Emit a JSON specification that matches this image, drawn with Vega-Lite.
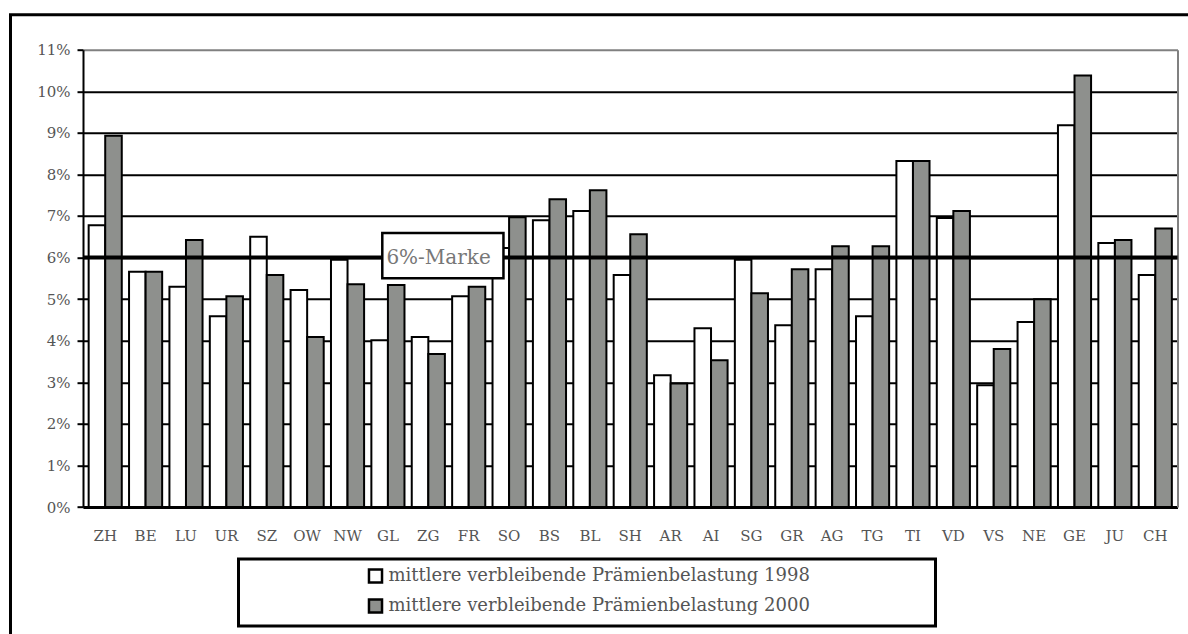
{
  "$schema": "https://vega.github.io/schema/vega-lite/v6.json",
  "width": 1180.5,
  "height": 622.3,
  "autosize": "none",
  "padding": {"left": 10.5, "top": 14.7, "right": -3, "bottom": -3},
  "background": "white",
  "config": {
    "view": {"stroke": "black", "strokeWidth": 3, "fill": "white"},
    "font": "DejaVu Serif"
  },
  "datasets": {
    "bars": [
      {"Kanton": "ZH", "Reihe": "mittlere verbleibende Prämienbelastung 1998", "Wert": 6.78},
      {"Kanton": "ZH", "Reihe": "mittlere verbleibende Prämienbelastung 2000", "Wert": 8.93},
      {"Kanton": "BE", "Reihe": "mittlere verbleibende Prämienbelastung 1998", "Wert": 5.66},
      {"Kanton": "BE", "Reihe": "mittlere verbleibende Prämienbelastung 2000", "Wert": 5.66},
      {"Kanton": "LU", "Reihe": "mittlere verbleibende Prämienbelastung 1998", "Wert": 5.30},
      {"Kanton": "LU", "Reihe": "mittlere verbleibende Prämienbelastung 2000", "Wert": 6.42},
      {"Kanton": "UR", "Reihe": "mittlere verbleibende Prämienbelastung 1998", "Wert": 4.59},
      {"Kanton": "UR", "Reihe": "mittlere verbleibende Prämienbelastung 2000", "Wert": 5.07},
      {"Kanton": "SZ", "Reihe": "mittlere verbleibende Prämienbelastung 1998", "Wert": 6.50},
      {"Kanton": "SZ", "Reihe": "mittlere verbleibende Prämienbelastung 2000", "Wert": 5.58},
      {"Kanton": "OW", "Reihe": "mittlere verbleibende Prämienbelastung 1998", "Wert": 5.22},
      {"Kanton": "OW", "Reihe": "mittlere verbleibende Prämienbelastung 2000", "Wert": 4.09},
      {"Kanton": "NW", "Reihe": "mittlere verbleibende Prämienbelastung 1998", "Wert": 5.95},
      {"Kanton": "NW", "Reihe": "mittlere verbleibende Prämienbelastung 2000", "Wert": 5.36},
      {"Kanton": "GL", "Reihe": "mittlere verbleibende Prämienbelastung 1998", "Wert": 4.01},
      {"Kanton": "GL", "Reihe": "mittlere verbleibende Prämienbelastung 2000", "Wert": 5.34},
      {"Kanton": "ZG", "Reihe": "mittlere verbleibende Prämienbelastung 1998", "Wert": 4.09},
      {"Kanton": "ZG", "Reihe": "mittlere verbleibende Prämienbelastung 2000", "Wert": 3.68},
      {"Kanton": "FR", "Reihe": "mittlere verbleibende Prämienbelastung 1998", "Wert": 5.07},
      {"Kanton": "FR", "Reihe": "mittlere verbleibende Prämienbelastung 2000", "Wert": 5.30},
      {"Kanton": "SO", "Reihe": "mittlere verbleibende Prämienbelastung 1998", "Wert": 6.23},
      {"Kanton": "SO", "Reihe": "mittlere verbleibende Prämienbelastung 2000", "Wert": 6.97},
      {"Kanton": "BS", "Reihe": "mittlere verbleibende Prämienbelastung 1998", "Wert": 6.90},
      {"Kanton": "BS", "Reihe": "mittlere verbleibende Prämienbelastung 2000", "Wert": 7.40},
      {"Kanton": "BL", "Reihe": "mittlere verbleibende Prämienbelastung 1998", "Wert": 7.12},
      {"Kanton": "BL", "Reihe": "mittlere verbleibende Prämienbelastung 2000", "Wert": 7.62},
      {"Kanton": "SH", "Reihe": "mittlere verbleibende Prämienbelastung 1998", "Wert": 5.58},
      {"Kanton": "SH", "Reihe": "mittlere verbleibende Prämienbelastung 2000", "Wert": 6.56},
      {"Kanton": "AR", "Reihe": "mittlere verbleibende Prämienbelastung 1998", "Wert": 3.17},
      {"Kanton": "AR", "Reihe": "mittlere verbleibende Prämienbelastung 2000", "Wert": 2.97},
      {"Kanton": "AI", "Reihe": "mittlere verbleibende Prämienbelastung 1998", "Wert": 4.30},
      {"Kanton": "AI", "Reihe": "mittlere verbleibende Prämienbelastung 2000", "Wert": 3.53},
      {"Kanton": "SG", "Reihe": "mittlere verbleibende Prämienbelastung 1998", "Wert": 5.95},
      {"Kanton": "SG", "Reihe": "mittlere verbleibende Prämienbelastung 2000", "Wert": 5.14},
      {"Kanton": "GR", "Reihe": "mittlere verbleibende Prämienbelastung 1998", "Wert": 4.37},
      {"Kanton": "GR", "Reihe": "mittlere verbleibende Prämienbelastung 2000", "Wert": 5.72},
      {"Kanton": "AG", "Reihe": "mittlere verbleibende Prämienbelastung 1998", "Wert": 5.72},
      {"Kanton": "AG", "Reihe": "mittlere verbleibende Prämienbelastung 2000", "Wert": 6.27},
      {"Kanton": "TG", "Reihe": "mittlere verbleibende Prämienbelastung 1998", "Wert": 4.59},
      {"Kanton": "TG", "Reihe": "mittlere verbleibende Prämienbelastung 2000", "Wert": 6.27},
      {"Kanton": "TI", "Reihe": "mittlere verbleibende Prämienbelastung 1998", "Wert": 8.32},
      {"Kanton": "TI", "Reihe": "mittlere verbleibende Prämienbelastung 2000", "Wert": 8.32},
      {"Kanton": "VD", "Reihe": "mittlere verbleibende Prämienbelastung 1998", "Wert": 6.95},
      {"Kanton": "VD", "Reihe": "mittlere verbleibende Prämienbelastung 2000", "Wert": 7.12},
      {"Kanton": "VS", "Reihe": "mittlere verbleibende Prämienbelastung 1998", "Wert": 2.93},
      {"Kanton": "VS", "Reihe": "mittlere verbleibende Prämienbelastung 2000", "Wert": 3.80},
      {"Kanton": "NE", "Reihe": "mittlere verbleibende Prämienbelastung 1998", "Wert": 4.45},
      {"Kanton": "NE", "Reihe": "mittlere verbleibende Prämienbelastung 2000", "Wert": 5.00},
      {"Kanton": "GE", "Reihe": "mittlere verbleibende Prämienbelastung 1998", "Wert": 9.18},
      {"Kanton": "GE", "Reihe": "mittlere verbleibende Prämienbelastung 2000", "Wert": 10.38},
      {"Kanton": "JU", "Reihe": "mittlere verbleibende Prämienbelastung 1998", "Wert": 6.35},
      {"Kanton": "JU", "Reihe": "mittlere verbleibende Prämienbelastung 2000", "Wert": 6.42},
      {"Kanton": "CH", "Reihe": "mittlere verbleibende Prämienbelastung 1998", "Wert": 5.58},
      {"Kanton": "CH", "Reihe": "mittlere verbleibende Prämienbelastung 2000", "Wert": 6.70}
    ],
    "marke": [{"Wert": 6, "Label": "6%-Marke", "Oben": 6.59, "Unten": 5.5, "Von": "GL", "Bis": "SO", "Mitte": "ZG", "Erster": "ZH", "Letzter": "CH"}]
  },
  "resolve": {"axis": {"y": "independent"}},
  "layer": [
    {
      "data": {"name": "bars"},
      "mark": {"type": "bar", "stroke": "black", "strokeWidth": 2},
      "encoding": {
        "x": {
          "field": "Kanton", "type": "nominal",
          "scale": {
            "domain": ["ZH", "BE", "LU", "UR", "SZ", "OW", "NW", "GL", "ZG", "FR", "SO", "BS", "BL", "SH", "AR", "AI", "SG", "GR", "AG", "TG", "TI", "VD", "VS", "NE", "GE", "JU", "CH"],
            "range": [72.5, 1167],
            "paddingInner": 0.18, "paddingOuter": 0.14
          },
          "axis": {
            "title": null, "ticks": false, "labelAngle": 0, "offset": -130,
            "domainColor": "black", "domainWidth": 3,
            "labelFontSize": 15, "labelColor": "#555555", "labelPadding": 21,
            "labelFont": "DejaVu Serif"
          }
        },
        "xOffset": {"field": "Reihe", "type": "nominal", "scale": {"paddingInner": 0}},
        "y": {
          "field": "Wert", "type": "quantitative",
          "scale": {"domain": [0, 11], "nice": false, "range": [492.3, 35]},
          "axis": {
            "title": null, "orient": "left", "offset": -72.5,
            "values": [0, 1, 2, 3, 4, 5, 6, 7, 8, 9, 10, 11],
            "labelExpr": "datum.value + '%'",
            "labelFontSize": 15, "labelColor": "#555555", "labelPadding": 7,
            "labelFont": "DejaVu Serif",
            "tickColor": "black", "tickWidth": 2, "tickSize": 6,
            "domainColor": "black", "domainWidth": 2,
            "grid": true, "gridWidth": 2,
            "gridColor": {"condition": {"test": "datum.value == 11", "value": "#808080"}, "value": "black"}
          }
        },
        "color": {
          "field": "Reihe", "type": "nominal",
          "scale": {"range": ["white", "#8e908d"]},
          "legend": {
            "title": "\u00a0", "titleOrient": "right", "titlePadding": 118, "titleFontSize": 10,
            "orient": "none", "legendX": 228, "legendY": 544.3,
            "direction": "vertical",
            "strokeColor": "black", "padding": 8,
            "symbolType": "square", "symbolSize": 170,
            "symbolStrokeColor": "black", "symbolStrokeWidth": 2.5,
            "symbolOffset": 120, "labelOffset": 4,
            "labelFontSize": 18, "labelColor": "#555555", "labelFont": "DejaVu Serif",
            "labelLimit": 600, "rowPadding": 6,
            "encode": {"legend": {"update": {"strokeWidth": {"value": 3}}}}
          }
        }
      }
    },
    {
      "data": {"name": "marke"},
      "mark": {"type": "rule", "color": "black", "strokeWidth": 4},
      "encoding": {
        "x": {"field": "Erster", "type": "nominal", "bandPosition": -0.1706},
        "x2": {"field": "Letzter", "bandPosition": 1.1715},
        "y": {
          "field": "Wert", "type": "quantitative",
          "axis": {"title": null, "orient": "right", "offset": -13.5, "labels": false, "ticks": false, "grid": false, "domainColor": "#808080", "domainWidth": 2}
        }
      }
    },
    {
      "data": {"name": "marke"},
      "mark": {"type": "rect", "fill": "white", "stroke": "black", "strokeWidth": 2.5},
      "encoding": {
        "x": {"field": "Von", "type": "nominal", "bandPosition": 0.33},
        "x2": {"field": "Bis", "bandPosition": 0.33},
        "y": {"field": "Oben", "type": "quantitative", "axis": null},
        "y2": {"field": "Unten"}
      }
    },
    {
      "data": {"name": "marke"},
      "mark": {"type": "text", "fontSize": 20, "color": "#777777", "font": "DejaVu Serif", "baseline": "middle", "align": "center"},
      "encoding": {
        "x": {"field": "Mitte", "type": "nominal", "bandPosition": 0.81},
        "y": {"field": "Wert", "type": "quantitative", "axis": null},
        "text": {"field": "Label"}
      }
    }
  ]
}
